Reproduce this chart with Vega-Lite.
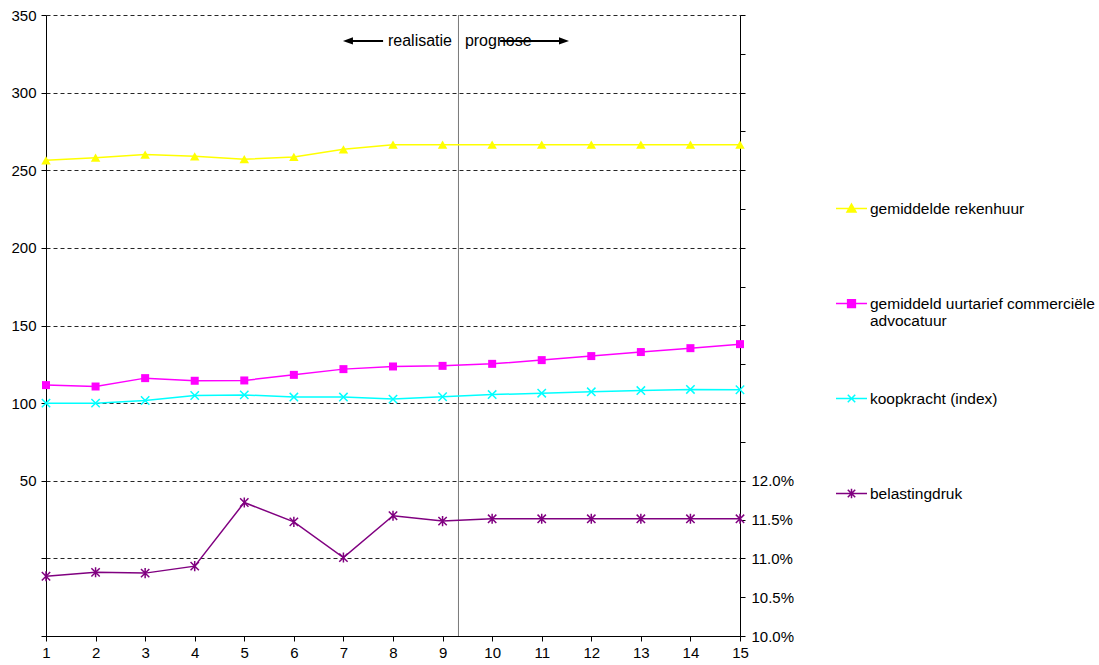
{
  "$schema": "https://vega.github.io/schema/vega-lite/v6.json",
  "width": 694,
  "height": 621,
  "autosize": {"type": "none"},
  "padding": {"left": 46, "top": 15, "right": 359, "bottom": 29},
  "background": "white",
  "config": {
    "font": "Liberation Sans",
    "view": {"stroke": null},
    "axis": {"labelFontSize": 15, "labelColor": "#000", "domainColor": "#000", "tickColor": "#000", "tickSize": 5, "labelFont": "Liberation Sans"}
  },
  "data": {
    "values": [
      {"x": 1, "series": "gemiddelde rekenhuur", "value": 256.4},
      {"x": 2, "series": "gemiddelde rekenhuur", "value": 258.1},
      {"x": 3, "series": "gemiddelde rekenhuur", "value": 260.1},
      {"x": 4, "series": "gemiddelde rekenhuur", "value": 259.0},
      {"x": 5, "series": "gemiddelde rekenhuur", "value": 257.1},
      {"x": 6, "series": "gemiddelde rekenhuur", "value": 258.6},
      {"x": 7, "series": "gemiddelde rekenhuur", "value": 263.5},
      {"x": 8, "series": "gemiddelde rekenhuur", "value": 266.5},
      {"x": 9, "series": "gemiddelde rekenhuur", "value": 266.5},
      {"x": 10, "series": "gemiddelde rekenhuur", "value": 266.5},
      {"x": 11, "series": "gemiddelde rekenhuur", "value": 266.5},
      {"x": 12, "series": "gemiddelde rekenhuur", "value": 266.5},
      {"x": 13, "series": "gemiddelde rekenhuur", "value": 266.5},
      {"x": 14, "series": "gemiddelde rekenhuur", "value": 266.5},
      {"x": 15, "series": "gemiddelde rekenhuur", "value": 266.5},
      {"x": 1, "series": "gemiddeld uurtarief commerciële advocatuur", "value": 111.6},
      {"x": 2, "series": "gemiddeld uurtarief commerciële advocatuur", "value": 110.7},
      {"x": 3, "series": "gemiddeld uurtarief commerciële advocatuur", "value": 116.1},
      {"x": 4, "series": "gemiddeld uurtarief commerciële advocatuur", "value": 114.4},
      {"x": 5, "series": "gemiddeld uurtarief commerciële advocatuur", "value": 114.6},
      {"x": 6, "series": "gemiddeld uurtarief commerciële advocatuur", "value": 118.2},
      {"x": 7, "series": "gemiddeld uurtarief commerciële advocatuur", "value": 121.9},
      {"x": 8, "series": "gemiddeld uurtarief commerciële advocatuur", "value": 123.6},
      {"x": 9, "series": "gemiddeld uurtarief commerciële advocatuur", "value": 124.0},
      {"x": 10, "series": "gemiddeld uurtarief commerciële advocatuur", "value": 125.3},
      {"x": 11, "series": "gemiddeld uurtarief commerciële advocatuur", "value": 127.7},
      {"x": 12, "series": "gemiddeld uurtarief commerciële advocatuur", "value": 130.3},
      {"x": 13, "series": "gemiddeld uurtarief commerciële advocatuur", "value": 132.9},
      {"x": 14, "series": "gemiddeld uurtarief commerciële advocatuur", "value": 135.4},
      {"x": 15, "series": "gemiddeld uurtarief commerciële advocatuur", "value": 138.0},
      {"x": 1, "series": "koopkracht (index)", "value": 100.0},
      {"x": 2, "series": "koopkracht (index)", "value": 100.0},
      {"x": 3, "series": "koopkracht (index)", "value": 101.7},
      {"x": 4, "series": "koopkracht (index)", "value": 104.9},
      {"x": 5, "series": "koopkracht (index)", "value": 105.3},
      {"x": 6, "series": "koopkracht (index)", "value": 103.9},
      {"x": 7, "series": "koopkracht (index)", "value": 103.9},
      {"x": 8, "series": "koopkracht (index)", "value": 102.6},
      {"x": 9, "series": "koopkracht (index)", "value": 104.1},
      {"x": 10, "series": "koopkracht (index)", "value": 105.5},
      {"x": 11, "series": "koopkracht (index)", "value": 106.4},
      {"x": 12, "series": "koopkracht (index)", "value": 107.3},
      {"x": 13, "series": "koopkracht (index)", "value": 108.1},
      {"x": 14, "series": "koopkracht (index)", "value": 108.8},
      {"x": 15, "series": "koopkracht (index)", "value": 108.6},
      {"x": 1, "series": "belastingdruk", "value": 0.1077},
      {"x": 2, "series": "belastingdruk", "value": 0.1082},
      {"x": 3, "series": "belastingdruk", "value": 0.1081},
      {"x": 4, "series": "belastingdruk", "value": 0.1090},
      {"x": 5, "series": "belastingdruk", "value": 0.1172},
      {"x": 6, "series": "belastingdruk", "value": 0.1147},
      {"x": 7, "series": "belastingdruk", "value": 0.1101},
      {"x": 8, "series": "belastingdruk", "value": 0.1155},
      {"x": 9, "series": "belastingdruk", "value": 0.1148},
      {"x": 10, "series": "belastingdruk", "value": 0.1151},
      {"x": 11, "series": "belastingdruk", "value": 0.1151},
      {"x": 12, "series": "belastingdruk", "value": 0.1151},
      {"x": 13, "series": "belastingdruk", "value": 0.1151},
      {"x": 14, "series": "belastingdruk", "value": 0.1151},
      {"x": 15, "series": "belastingdruk", "value": 0.1151}
    ]
  },
  "encoding": {
    "x": {
      "field": "x", "type": "quantitative", "title": null,
      "scale": {"domain": [1, 15], "nice": false, "zero": false},
      "axis": {"values": [1,2,3,4,5,6,7,8,9,10,11,12,13,14,15], "format": "d", "grid": false, "labelPadding": 4, "labelFlush": false, "labelOverlap": false}
    }
  },
  "layer": [
    {
      "encoding": {
        "y": {
          "field": "value", "type": "quantitative", "title": null,
          "scale": {"domain": [-50, 350], "nice": false, "zero": false},
          "axis": {
            "values": [-50, 0, 50, 100, 150, 200, 250, 300, 350],
            "labelExpr": "datum.value >= 50 ? datum.label : ''",
            "grid": true, "gridColor": "#000", "gridDash": [4, 3], "gridWidth": 1, "gridOpacity": 0.85,
            "labelPadding": 5, "labelFlush": false, "labelOverlap": false
          }
        }
      },
      "layer": [
        {
          "transform": [{"filter": "datum.x == 1 && datum.series == 'belastingdruk'"}],
          "mark": {"type": "rule", "color": "#7a7a7a", "strokeWidth": 1},
          "encoding": {"x": {"datum": 9.321}, "y": {"datum": -50}, "y2": {"datum": 350}}
        },
        {
          "transform": [{"filter": "datum.series == 'gemiddelde rekenhuur'"}],
          "mark": {"type": "line", "color": "#FFFF00", "strokeWidth": 1.5}
        },
        {
          "transform": [{"filter": "datum.series == 'gemiddelde rekenhuur'"}],
          "mark": {"type": "point", "shape": "triangle-up", "filled": true, "color": "#FFFF00", "size": 90, "opacity": 1}
        },
        {
          "transform": [{"filter": "datum.series == 'gemiddeld uurtarief commerciële advocatuur'"}],
          "mark": {"type": "line", "color": "#FF00FF", "strokeWidth": 1.5}
        },
        {
          "transform": [{"filter": "datum.series == 'gemiddeld uurtarief commerciële advocatuur'"}],
          "mark": {"type": "point", "shape": "square", "filled": true, "color": "#FF00FF", "size": 64, "opacity": 1}
        },
        {
          "transform": [{"filter": "datum.series == 'koopkracht (index)'"}],
          "mark": {"type": "line", "color": "#00FFFF", "strokeWidth": 1.5}
        },
        {
          "transform": [{"filter": "datum.series == 'koopkracht (index)'"}],
          "mark": {"type": "point", "shape": "M-1,-1L1,1M-1,1L1,-1", "filled": false, "color": "#00FFFF", "strokeWidth": 1.5, "size": 70, "opacity": 1}
        },
        {
          "transform": [{"filter": "datum.x == 1 && datum.series == 'belastingdruk'"}],
          "mark": {"type": "rule", "color": "#000", "strokeWidth": 2},
          "encoding": {"x": {"datum": 7.1}, "x2": {"datum": 7.8}, "y": {"datum": 333.3}}
        },
        {
          "transform": [{"filter": "datum.x == 1 && datum.series == 'belastingdruk'"}],
          "mark": {"type": "point", "shape": "M0,0L2.5,-0.9L2.5,0.9Z", "filled": true, "color": "#000", "size": 64, "opacity": 1},
          "encoding": {"x": {"datum": 6.99}, "y": {"datum": 333.3}}
        },
        {
          "transform": [{"filter": "datum.x == 1 && datum.series == 'belastingdruk'"}],
          "mark": {"type": "rule", "color": "#000", "strokeWidth": 2},
          "encoding": {"x": {"datum": 10.16}, "x2": {"datum": 11.45}, "y": {"datum": 333.3}}
        },
        {
          "transform": [{"filter": "datum.x == 1 && datum.series == 'belastingdruk'"}],
          "mark": {"type": "point", "shape": "M0,0L-2.5,-0.9L-2.5,0.9Z", "filled": true, "color": "#000", "size": 64, "opacity": 1},
          "encoding": {"x": {"datum": 11.55}, "y": {"datum": 333.3}}
        },
        {
          "transform": [{"filter": "datum.x == 1 && datum.series == 'belastingdruk'"}],
          "mark": {"type": "text", "text": "realisatie", "align": "right", "baseline": "middle", "fontSize": 16, "font": "Liberation Sans", "color": "#000"},
          "encoding": {"x": {"datum": 9.19}, "y": {"datum": 333.3}}
        },
        {
          "transform": [{"filter": "datum.x == 1 && datum.series == 'belastingdruk'"}],
          "mark": {"type": "text", "text": "prognose", "align": "left", "baseline": "middle", "fontSize": 16, "font": "Liberation Sans", "color": "#000"},
          "encoding": {"x": {"datum": 9.45}, "y": {"datum": 333.3}}
        },
        {
          "transform": [{"filter": "datum.x > 100"}],
          "mark": {"type": "point", "filled": true, "opacity": 1, "strokeWidth": 1.5},
          "encoding": {
            "color": {
              "field": "series", "type": "nominal",
              "scale": {"domain": ["gemiddelde rekenhuur", "gemiddeld uurtarief commerciële advocatuur", "koopkracht (index)", "belastingdruk"], "range": ["#FFFF00", "#FF00FF", "#00FFFF", "#800080"]},
              "legend": {
                "orient": "none", "legendX": 789, "legendY": 177, "direction": "vertical", "title": null, "padding": 0,
                "labelFontSize": 15.5, "labelFont": "Liberation Sans", "labelColor": "#000", "labelLimit": 400, "labelOffset": 2,
                "symbolSize": 961, "symbolStrokeWidth": 1.5, "symbolOpacity": 1, "rowPadding": 52,
                "labelExpr": "datum.label == 'gemiddeld uurtarief commerciële advocatuur' ? ['gemiddeld uurtarief commerciële', 'advocatuur'] : [datum.label, '']"
              }
            },
            "stroke": {
              "field": "series", "type": "nominal",
              "scale": {"domain": ["gemiddelde rekenhuur", "gemiddeld uurtarief commerciële advocatuur", "koopkracht (index)", "belastingdruk"], "range": ["#FFFF00", "#FF00FF", "#00FFFF", "#800080"]},
              "legend": {
                "orient": "none", "legendX": 789, "legendY": 177, "direction": "vertical", "title": null, "padding": 0,
                "labelFontSize": 15.5, "labelFont": "Liberation Sans", "labelColor": "#000", "labelLimit": 400, "labelOffset": 2,
                "symbolSize": 961, "symbolStrokeWidth": 1.5, "symbolOpacity": 1, "rowPadding": 52,
                "labelExpr": "datum.label == 'gemiddeld uurtarief commerciële advocatuur' ? ['gemiddeld uurtarief commerciële', 'advocatuur'] : [datum.label, '']"
              }
            },
            "shape": {
              "field": "series", "type": "nominal",
              "scale": {"domain": ["gemiddelde rekenhuur", "gemiddeld uurtarief commerciële advocatuur", "koopkracht (index)", "belastingdruk"], "range": ["M-1,0L1,0M0,-0.29L0.29,0.23L-0.29,0.23Z", "M-1,0L1,0M-0.25,-0.25L0.25,-0.25L0.25,0.25L-0.25,0.25Z", "M-1,0L1,0M-0.24,-0.24L0.24,0.24M-0.24,0.24L0.24,-0.24", "M-1,0L1,0M-0.24,-0.24L0.24,0.24M-0.24,0.24L0.24,-0.24M0,-0.3L0,0.3"]},
              "legend": {
                "orient": "none", "legendX": 789, "legendY": 177, "direction": "vertical", "title": null, "padding": 0,
                "labelFontSize": 15.5, "labelFont": "Liberation Sans", "labelColor": "#000", "labelLimit": 400, "labelOffset": 2,
                "symbolSize": 961, "symbolStrokeWidth": 1.5, "symbolOpacity": 1, "rowPadding": 52,
                "labelExpr": "datum.label == 'gemiddeld uurtarief commerciële advocatuur' ? ['gemiddeld uurtarief commerciële', 'advocatuur'] : [datum.label, '']"
              }
            }
          }
        }
      ]
    },
    {
      "transform": [{"filter": "datum.series == 'belastingdruk'"}],
      "encoding": {
        "y": {
          "field": "value", "type": "quantitative", "title": null,
          "scale": {"domain": [0.10, 0.18], "nice": false, "zero": false},
          "axis": {
            "orient": "right",
            "values": [0.1, 0.105, 0.11, 0.115, 0.12, 0.125, 0.13, 0.135, 0.14, 0.145, 0.15, 0.155, 0.16, 0.165, 0.17, 0.175, 0.18],
            "format": ".1%",
            "labelExpr": "datum.value <= 0.1201 ? datum.label : ''",
            "grid": false, "labelPadding": 6, "labelFlush": false, "labelOverlap": false
          }
        }
      },
      "layer": [
        {"mark": {"type": "line", "color": "#800080", "strokeWidth": 1.5}},
        {"mark": {"type": "point", "shape": "M-1,-1L1,1M-1,1L1,-1M0,-1.2L0,1.2", "filled": false, "color": "#800080", "strokeWidth": 1.5, "size": 70, "opacity": 1}}
      ]
    }
  ],
  "resolve": {"scale": {"y": "independent"}}
}
